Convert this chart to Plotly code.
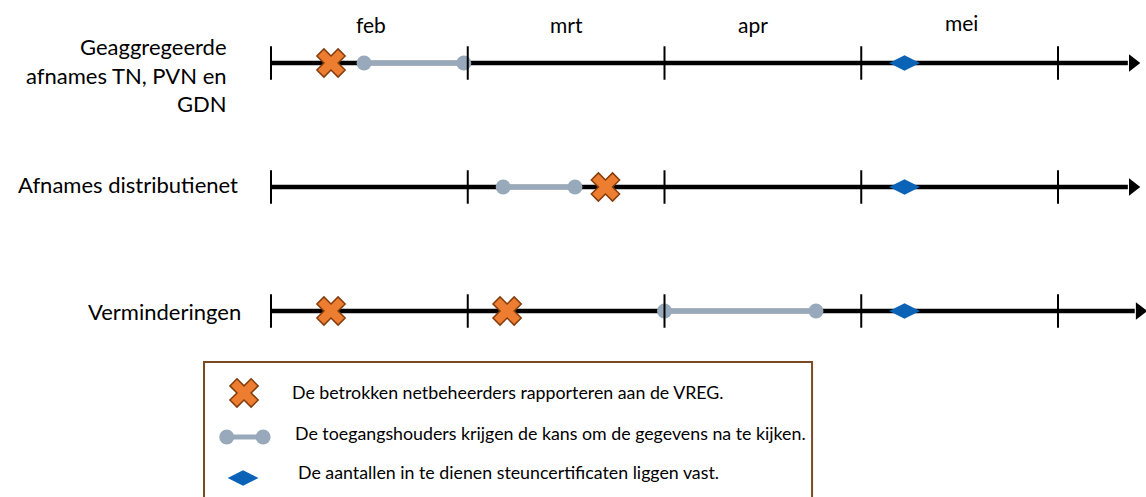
import plotly.graph_objects as go

# ---- data ----
months = ["feb", "mrt", "apr", "mei"]
month_label_pos = [0.51, 1.50, 2.45, 3.51]
month_boundaries = [0, 1, 2, 3, 4]
axis_end = [4.415, 4.415, 4.45]

row_labels = ["Geaggregeerde<br>afnames TN, PVN en<br>GDN", "Afnames distributienet", "Verminderingen"]
report_x = [[0.305], [1.70], [0.305, 1.20]]
review_start = [0.473, 1.18, 2.0]
review_end = [0.98, 1.545, 2.77]
fixed_x = [3.22, 3.22, 3.22]

legend_texts = [
    "De betrokken netbeheerders rapporteren aan de VREG.",
    "De toegangshouders krijgen de kans om de gegevens na te kijken.",
    "De aantallen in te dienen steuncertificaten liggen vast.",
]

ORANGE = "#ED7D31"
BROWN = "#843C0C"
GRAY = "#97A9BA"
BLUE = "#0B63B8"
FONT = "Lato"

fig = go.Figure()
shapes = []
annotations = []

for r, lab in enumerate(row_labels):
    fig.add_trace(go.Scatter(x=[month_boundaries[0], axis_end[r] - 0.06], y=[r, r], mode="lines",
                             line=dict(color="black", width=4.5), showlegend=False, hoverinfo="skip"))
    fig.add_trace(go.Scatter(x=[axis_end[r] - 0.035], y=[r], mode="markers",
                             marker=dict(symbol="triangle-right", size=15, color="black"),
                             showlegend=False, hoverinfo="skip"))
    for b in month_boundaries:
        shapes.append(dict(type="line", xref="x", yref="y", x0=b, x1=b, y0=r - 0.135, y1=r + 0.135,
                           line=dict(color="black", width=2)))
    fig.add_trace(go.Scatter(x=[review_start[r], review_end[r]], y=[r, r], mode="lines+markers",
                             line=dict(color=GRAY, width=5),
                             marker=dict(symbol="circle", size=15, color=GRAY),
                             showlegend=False, hoverinfo="skip"))
    fig.add_trace(go.Scatter(x=report_x[r], y=[r] * len(report_x[r]), mode="markers",
                             marker=dict(symbol="x", size=25, color=ORANGE, line=dict(color=BROWN, width=1.5)),
                             showlegend=False, hoverinfo="skip"))
    fig.add_trace(go.Scatter(x=[fixed_x[r]], y=[r], mode="markers",
                             marker=dict(symbol="diamond-wide", size=22, color=BLUE),
                             showlegend=False, hoverinfo="skip"))

# row labels
row_label_right = [229, 240, 243]
row_label_y = [75 / 497, 184 / 497, 311 / 497]
for r, lab in enumerate(row_labels):
    annotations.append(dict(text=lab, xref="paper", yref="paper",
                            x=row_label_right[r] / 1146, y=1 - row_label_y[r],
                            xanchor="right", yanchor="middle", align="right", showarrow=False,
                            font=dict(family=FONT, size=22, color="black")))

# month labels
month_label_y = [-0.31, -0.31, -0.31, -0.33]
for m, xp, yp in zip(months, month_label_pos, month_label_y):
    annotations.append(dict(text=m, x=xp, y=yp, xref="x", yref="y", showarrow=False,
                            xanchor="center", yanchor="middle",
                            font=dict(family=FONT, size=21, color="black")))

# legend box
shapes.append(dict(type="rect", xref="x", yref="y", x0=-0.3405, x1=2.75, y0=2.411, y1=3.62,
                   line=dict(color="#7B4A25", width=2), fillcolor="rgba(0,0,0,0)"))
fig.add_trace(go.Scatter(x=[-0.137], y=[2.661], mode="markers",
                         marker=dict(symbol="x", size=25, color=ORANGE, line=dict(color=BROWN, width=1.5)),
                         showlegend=False, hoverinfo="skip"))
fig.add_trace(go.Scatter(x=[-0.225, -0.04], y=[3.016, 3.016], mode="lines+markers",
                         line=dict(color=GRAY, width=5), marker=dict(symbol="circle", size=15, color=GRAY),
                         showlegend=False, hoverinfo="skip"))
fig.add_trace(go.Scatter(x=[-0.142], y=[3.347], mode="markers",
                         marker=dict(symbol="diamond-wide", size=22, color=BLUE),
                         showlegend=False, hoverinfo="skip"))
leg_x = [0.0966, 0.112, 0.127]
leg_y = [2.653, 2.984, 3.298]
for t, xp, yp in zip(legend_texts, leg_x, leg_y):
    annotations.append(dict(text=t, x=xp, y=yp, xref="x", yref="y", showarrow=False,
                            xanchor="left", yanchor="middle",
                            font=dict(family=FONT, size=17.8, color="black")))

fig.update_layout(
    width=1146, height=497,
    margin=dict(l=0, r=0, t=0, b=0),
    plot_bgcolor="white", paper_bgcolor="white",
    xaxis=dict(range=[-271 / 196.75, (1146 - 271) / 196.75], visible=False, fixedrange=True),
    yaxis=dict(range=[(497 - 63) / 124, -63 / 124], visible=False, fixedrange=True),
    shapes=shapes, annotations=annotations, showlegend=False,
)

fig.write_html("out.html", config={"displayModeBar": False},
               post_script="document.body.style.margin='0';document.body.style.overflow='hidden';")
